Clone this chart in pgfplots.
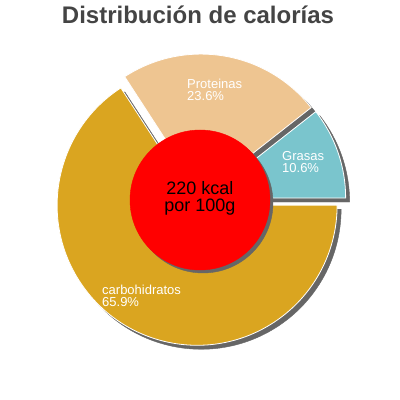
\documentclass[border=0pt]{standalone}
\usepackage{pgfplots}
\pgfplotsset{compat=1.18}
\usepackage{pgfplotstable}
\usepackage{fontspec}
\setmainfont{Liberation Sans}

\definecolor{rebanada0}{HTML}{7AC5CD} % grasas
\definecolor{rebanada1}{HTML}{EEC591} % proteinas
\definecolor{rebanada2}{HTML}{DAA520} % carbohidratos
\definecolor{sombra}{HTML}{666666}
\definecolor{titulo}{HTML}{444444}

% percent of calories, start angle of each slice
\pgfplotstableread{
nombre pct inicio n
Grasas 10.6 0 0
Proteinas 23.6 38.14 1
carbohidratos 65.9 123.02 2
}\calorias

% angle of one percent (values sum to 100.1)
\def\grado{3.5964}

\pgfplotsset{
  rebanada/.style={
    scatter, only marks, mark=*, mark size=0pt,
    visualization depends on={\thisrow{inicio} \as \ini},
    visualization depends on={\thisrow{pct} \as \pc},
    visualization depends on={\thisrow{n} \as \nn},
    scatter/@post marker code/.code={\endscope},
  },
}

\begin{document}
\begin{tikzpicture}
\begin{axis}[
  set layers,
  hide axis,
  x=1pt, y=1pt,
  xmin=0, xmax=400, ymin=0, ymax=400,
  clip=false,
]
\path (axis cs:0,0) rectangle (axis cs:400,400);

% shadows
\addplot[rebanada,
  scatter/@pre marker code/.code={%
    \fill[sombra] (0,0) -- (\ini:140pt)
      arc[start angle=\ini, delta angle=\grado*\pc, radius=140pt] -- cycle;
    \scope},
] table[x expr={204+6*cos(\thisrow{inicio}+0.5*\grado*\thisrow{pct})},
        y expr={196+6*sin(\thisrow{inicio}+0.5*\grado*\thisrow{pct})}] {\calorias};

% slices
\addplot[rebanada,
  scatter/@pre marker code/.code={%
    \pgfmathtruncatemacro{\k}{\nn}%
    \filldraw[fill=rebanada\k, draw=white, line width=0.8pt] (0,0) -- (\ini:140pt)
      arc[start angle=\ini, delta angle=\grado*\pc, radius=140pt] -- cycle;
    \scope},
] table[x expr={200+6*cos(\thisrow{inicio}+0.5*\grado*\thisrow{pct})},
        y expr={200+6*sin(\thisrow{inicio}+0.5*\grado*\thisrow{pct})}] {\calorias};

% centre disc
\addplot[only marks, mark=*, mark size=70pt, mark options={draw=sombra, fill=sombra}]
  coordinates {(203,197)};
\addplot[only marks, mark=*, mark size=70pt, mark options={draw=red, fill=red}]
  coordinates {(200,200)};

\begin{pgfonlayer}{axis foreground}
\node[anchor=base, text=titulo, font=\bfseries\fontsize{24}{28}\selectfont]
  at (axis cs:198,376) {Distribución de calorías};

\node[anchor=base, font=\fontsize{18}{20}\selectfont] at (axis cs:200,205) {220 kcal};
\node[anchor=base, font=\fontsize{18}{20}\selectfont] at (axis cs:200,188) {por 100g};

\begin{scope}[every node/.style={anchor=base west, inner sep=0pt, text=white,
    font=\fontsize{13}{14}\selectfont}]
\node at (axis cs:187,311) {Proteinas};
\node at (axis cs:187,299) {23.6\%};
\node at (axis cs:282,239) {Grasas};
\node at (axis cs:282,227) {10.6\%};
\node at (axis cs:102,105) {carbohidratos};
\node at (axis cs:102,93) {65.9\%};
\end{scope}
\end{pgfonlayer}
\end{axis}
\end{tikzpicture}
\end{document}
